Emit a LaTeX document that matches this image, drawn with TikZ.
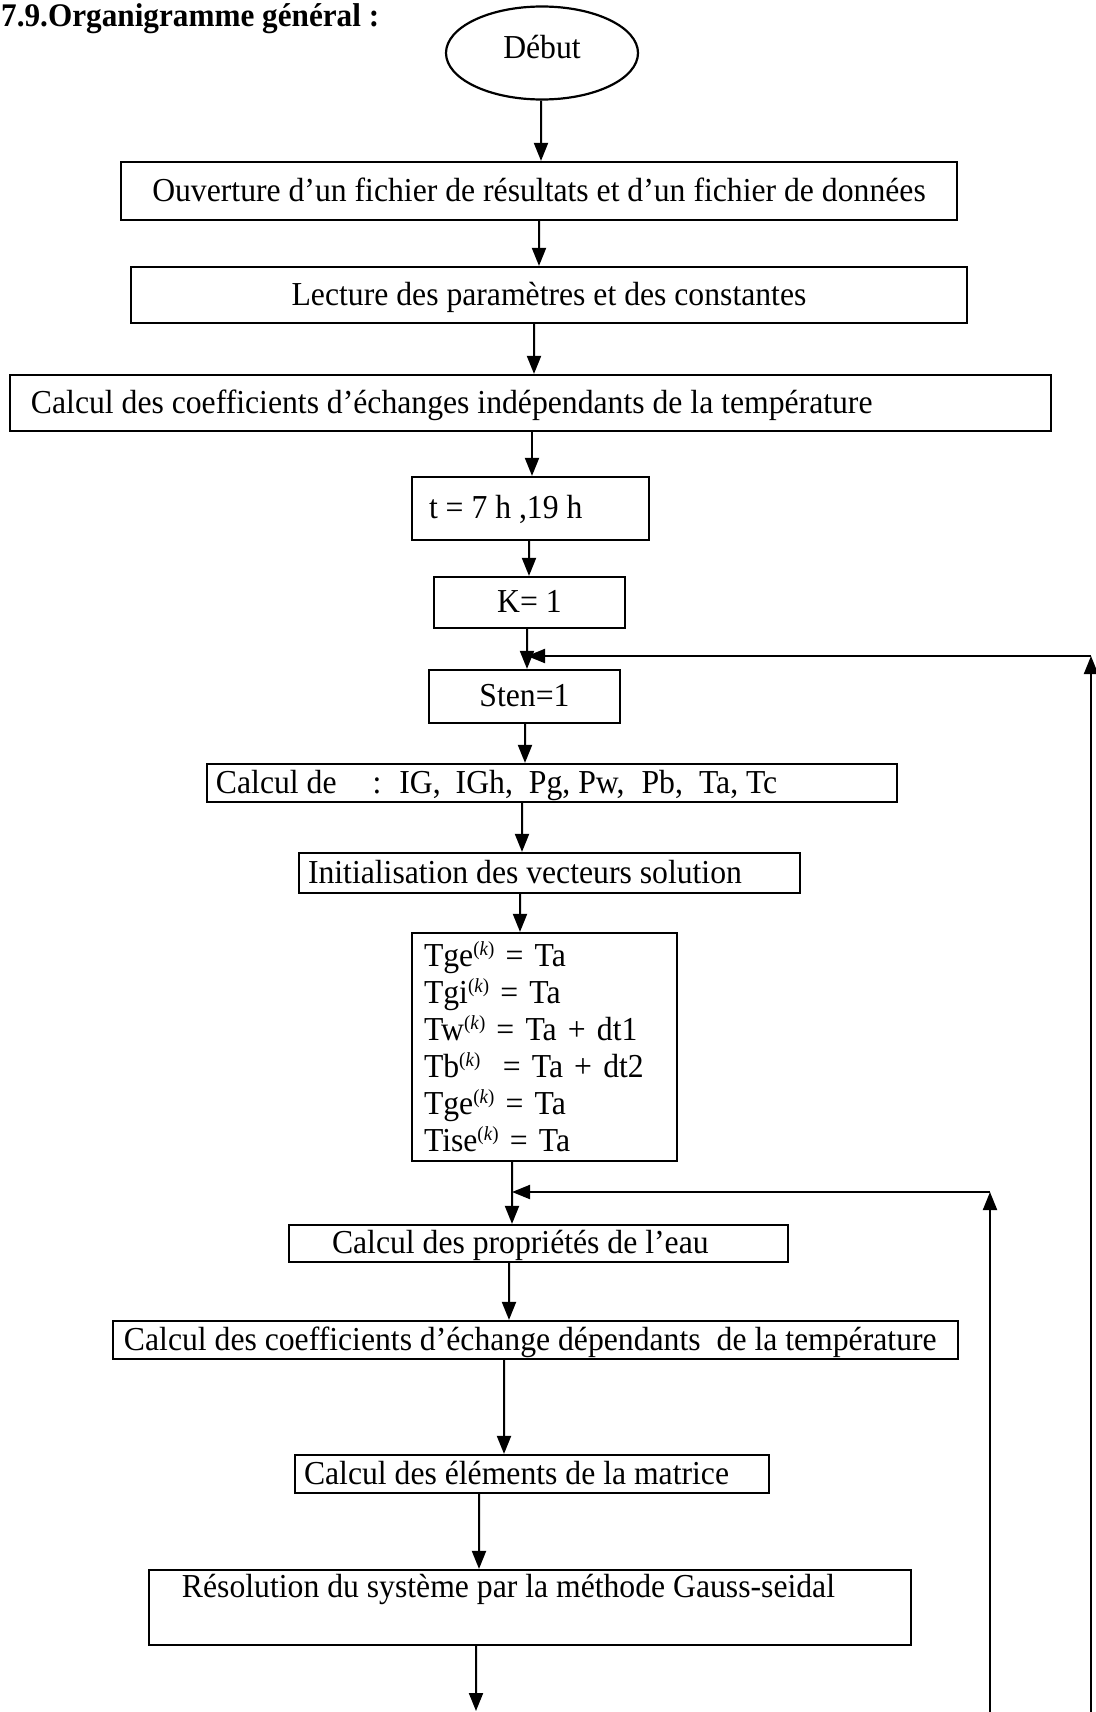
\documentclass[tikz,border=0pt]{standalone}
\usepackage{fontspec}
\setmainfont[FakeStretch=0.946]{Liberation Serif}
\usetikzlibrary{shapes.geometric,arrows.meta}
\newcommand\myfs[1]{\fontsize{#1bp}{#1bp}\selectfont}
\newcommand\lfill[2]{\makebox[#1bp][l]{#2}}
\newcommand\supk{\raisebox{11bp}{\fontsize{20bp}{20bp}\selectfont(\textit{k})}}
\begin{document}
\begin{tikzpicture}[x=1bp,y=-1bp,
  basebox/.style={draw,rectangle,line width=2.2bp,font=\myfs{33.5},inner ysep=1bp},
  box/.style={basebox,text height=27bp,text depth=7bp},
  arr/.style={line width=2bp,-{Triangle[length=18bp,width=14bp]}}]
\useasboundingbox (0,0) rectangle (1095,1712);

\node[anchor=base west,inner sep=0,font=\bfseries\myfs{33}] (title) at (1,26) {7.9.Organigramme général :};

\node[draw,ellipse,line width=2.2bp,minimum width=192bp,minimum height=93bp,inner sep=0,
      font=\myfs{33.5},text height=22bp,text depth=12bp] (debut) at (542,53) {Début};

\node[box,minimum width=836bp,minimum height=58bp] (b1) at (539,191)
  {Ouverture d’un fichier de résultats et d’un fichier de données};
\node[box,minimum width=836bp,minimum height=56bp] (b2) at (549,295)
  {Lecture des paramètres et des constantes};
\node[box,minimum width=1041bp,minimum height=56bp,inner xsep=21bp] (b3) at (530.5,403)
  {\lfill{999}{Calcul des coefficients d’échanges indépendants de la température}};
\node[box,minimum width=237bp,minimum height=63bp,inner xsep=17bp] (b4) at (530.5,508.5)
  {\lfill{203}{t = 7 h ,19 h}};
\node[box,minimum width=191bp,minimum height=51bp] (b5) at (529.5,602.5) {K= 1};
\node[box,minimum width=191bp,minimum height=53bp] (b6) at (524.5,696.5) {Sten=1};
\node[box,minimum width=690bp,minimum height=38bp,inner xsep=9bp] (b7) at (552,783)
  {\lfill{672}{Calcul de\hspace{36bp}:\hspace{18bp}IG,\hspace{15bp}IGh,\hspace{16bp}Pg, Pw,\hspace{17bp}Pb,\hspace{16bp}Ta, Tc}};
\node[box,minimum width=501bp,minimum height=40bp,inner xsep=9bp] (b8) at (549.5,873)
  {\lfill{483}{Initialisation des vecteurs solution}};
\node[basebox,font=\fontsize{33.5bp}{37bp}\selectfont,minimum width=265bp,minimum height=228bp,
      inner xsep=12bp,text width=241bp,align=left] (b9) at (544.5,1047)
  {Tge\supk{} = Ta\\Tgi\supk{} = Ta\\Tw\supk{} = Ta + dt1\\Tb\supk{}\ \ = Ta + dt2\\Tge\supk{} = Ta\\Tise\supk{} = Ta};
\node[box,minimum width=499bp,minimum height=37bp,inner xsep=43bp] (b10) at (538.5,1243.5)
  {\lfill{413}{Calcul des propriétés de l’eau}};
\node[box,minimum width=845bp,minimum height=38bp,inner xsep=11bp] (b11) at (535.5,1340)
  {\lfill{823}{Calcul des coefficients d’échange dépendants\hspace{16bp}de la température}};
\node[box,minimum width=474bp,minimum height=38bp,inner xsep=9bp] (b12) at (532,1474)
  {\lfill{456}{Calcul des éléments de la matrice}};
\node[basebox,minimum width=762bp,minimum height=75bp,inner xsep=33bp,inner ysep=0bp,
      text height=27bp,text depth=48bp] (b13) at (530,1607.5)
  {\lfill{696}{Résolution du système par la méthode Gauss-seidal}};

\coordinate (fin) at (476,1711);
\coordinate (l1b) at (1091,1712);
\coordinate (l1t) at (1091,656);
\coordinate (m1) at (527,656);
\coordinate (l2b) at (990,1712);
\coordinate (l2t) at (990,1192);
\coordinate (m2) at (512,1192);

\draw[arr] ([xshift=-1bp]debut.south) -- ([xshift=2bp]b1.north);
\draw[arr] (b1.south) -- ([xshift=-10bp]b2.north);
\draw[arr] ([xshift=-15bp]b2.south) -- ([xshift=3.5bp]b3.north);
\draw[arr] ([xshift=1.5bp]b3.south) -- ([xshift=1.5bp]b4.north);
\draw[arr] ([xshift=-1.5bp]b4.south) -- ([xshift=-0.5bp]b5.north);
\draw[arr] ([xshift=-2.5bp]b5.south) -- ([xshift=2.5bp]b6.north);
\draw[arr] ([xshift=0.5bp]b6.south) -- ([xshift=-27bp]b7.north);
\draw[arr] ([xshift=-30bp]b7.south) -- ([xshift=-27.5bp]b8.north);
\draw[arr] ([xshift=-29.5bp]b8.south) -- ([xshift=-24.5bp]b9.north);
\draw[arr] ([xshift=-32.5bp]b9.south) -- ([xshift=-26.5bp]b10.north);
\draw[arr] ([xshift=-29.5bp]b10.south) -- ([xshift=-26.5bp]b11.north);
\draw[arr] ([xshift=-31.5bp]b11.south) -- ([xshift=-28bp]b12.north);
\draw[arr] ([xshift=-53bp]b12.south) -- ([xshift=-51bp]b13.north);
\draw[arr] ([xshift=-54bp]b13.south) -- (fin);

\draw[arr] (l1b) -- (l1t);
\draw[arr] (l1t) -- (m1);
\draw[arr] (l2b) -- (l2t);
\draw[arr] (l2t) -- (m2);
\end{tikzpicture}
\end{document}
